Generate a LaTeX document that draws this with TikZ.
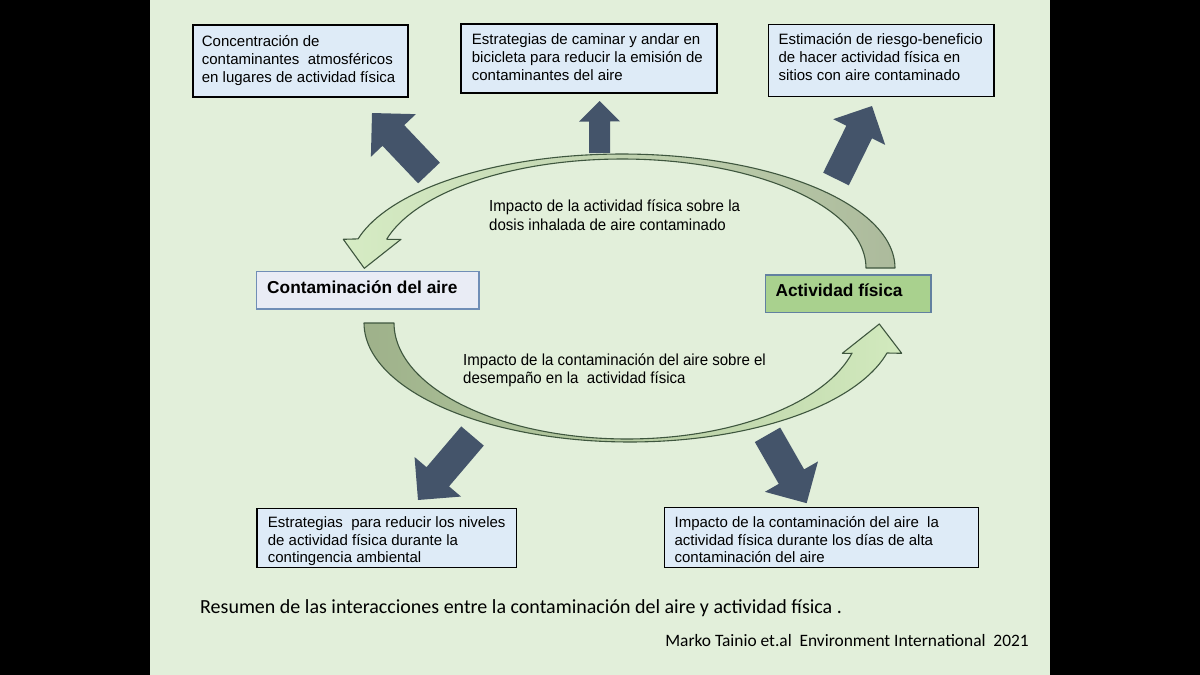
\documentclass[tikz,border=0pt]{standalone}
\usepackage{fontspec}
\setmainfont{Liberation Sans}
\newfontfamily\narrowfont[FakeStretch=0.94]{Liberation Sans}
\newfontfamily\califont{Carlito}
\definecolor{bggreen}{RGB}{226,239,218}
\definecolor{boxblue}{RGB}{222,235,247}
\definecolor{arrowslate}{RGB}{68,84,106}
\definecolor{contfill}{RGB}{233,236,245}
\definecolor{contedge}{RGB}{112,142,182}
\definecolor{actfill}{RGB}{169,209,142}
\definecolor{actedge}{RGB}{98,128,160}
\definecolor{curveedge}{RGB}{62,86,62}
\definecolor{upL}{RGB}{214,236,196}
\definecolor{upR}{RGB}{172,186,156}
\definecolor{loL}{RGB}{158,177,138}
\definecolor{loR}{RGB}{210,234,190}

% block arrow: tail x, tail y, tip x, tip y, shaft half width, head half width (= head length)
\newcommand\blockarr[6]{%
  \pgfmathsetmacro\BAang{atan2(-(#4-#2),#3-#1)}%
  \pgfmathsetmacro\BAlen{veclen(#3-#1,#4-#2)}%
  \pgfmathsetmacro\BAbase{\BAlen-#6}%
  \fill[arrowslate,shift={(#1,#2)},rotate=\BAang]
    (0,-#5) -- (\BAbase,-#5) -- (\BAbase,-#6) -- (\BAlen,0)
    -- (\BAbase,#6) -- (\BAbase,#5) -- (0,#5) -- cycle;}

\begin{document}
\begin{tikzpicture}[x=1pt,y=-1pt,
  infobox/.style={draw=black, line width=1.3pt, fill=boxblue, inner sep=0pt},
  boxtext/.style={inner sep=0pt, align=left, anchor=base west, text=black,
                  font=\fontsize{15}{18.2}\selectfont},
  lowtext/.style={inner sep=0pt, align=left, anchor=base west, text=black,
                  font=\fontsize{15}{17.7}\selectfont},
  midtext/.style={inner sep=0pt, align=left, anchor=base west, text=black,
                  font=\narrowfont\fontsize{16}{18.3}\selectfont},
  keytext/.style={inner sep=0pt, anchor=base west, text=black,
                  font=\bfseries\fontsize{17.3}{20}\selectfont},
  curvearrow/.style={draw=curveedge, line width=1.1pt, line join=round}
]
\useasboundingbox (0,0) rectangle (1200,675);
\fill[black] (0,0) rectangle (1200,675);
\fill[bggreen] (150,0) rectangle (1050,675);

% ---- curved arrows ----
\draw[curvearrow, left color=upL, right color=upR]
  (866,268) -- (895,268)
  -- plot[domain=0:165.2, samples=90] ({622+273*cos(\x)},{268-114*sin(\x)})
  -- (343.3,239.3) -- (364.3,268.3) -- (401,239.3) -- (387,239.3)
  -- plot[domain=164.6:0, samples=90] ({622+244*cos(\x)},{268-109*sin(\x)})
  -- cycle;

\draw[curvearrow, left color=loL, right color=loR]
  (394,323) -- (364,323)
  -- plot[domain=180:14.6, samples=90] ({629.8+265.8*cos(\x)},{323+119*sin(\x)})
  -- (901.7,353.3) -- (879.3,324) -- (842.3,353.3) -- (852,353.3)
  -- plot[domain=15:180, samples=90] ({627+233*cos(\x)},{323+116*sin(\x)})
  -- cycle;

% ---- dark block arrows ----
\blockarr{429}{173}{372}{113}{15}{31}
\blockarr{599.6}{153}{599.5}{101}{10.5}{20.5}
\blockarr{836}{179}{872}{106}{14.3}{29}
\blockarr{472.5}{436}{418}{500}{14.8}{30.5}
\blockarr{767.5}{434.8}{806.7}{503.3}{14.6}{30.6}

% ---- top boxes (text anchored at the baseline of its last line) ----
\node[infobox, minimum width=215pt, minimum height=72pt] (b1) at (300.5,61) {};
\node[boxtext] (b1t) at (201.7,82.4) {Concentración de\\contaminantes\ \ atmosféricos\\en lugares de actividad física};

\node[infobox, minimum width=256pt, minimum height=69pt] (b2) at (589,58.5) {};
\node[boxtext] (b2t) at (471.7,80.7) {Estrategias de caminar y andar en\\bicicleta para reducir la emisión de\\contaminantes del aire};

\node[infobox, minimum width=225.7pt, minimum height=72.4pt] (b3) at (881.2,60.5) {};
\node[boxtext] (b3t) at (778.3,80.7) {Estimación de riesgo-beneficio\\de hacer actividad física en\\sitios con aire contaminado};

% ---- key boxes ----
\node[draw=contedge, line width=1.4pt, fill=contfill, minimum width=222.3pt, minimum height=37.3pt, inner sep=0pt] (cont) at (367.9,290.4) {};
\node[keytext] (contt) at (267,293.3) {Contaminación del aire};

\node[draw=actedge, line width=1.4pt, fill=actfill, minimum width=165.2pt, minimum height=37.3pt, inner sep=0pt] (act) at (848.2,293.7) {};
\node[keytext] (actt) at (775.4,296.7) {Actividad física};

% ---- middle texts ----
\node[midtext] (m1) at (489,230) {Impacto de la actividad física sobre la\\dosis inhalada de aire contaminado};
\node[midtext] (m2) at (463,383.3) {Impacto de la contaminación del aire sobre el\\desempaño en la\ \ actividad física};

% ---- bottom boxes ----
\node[infobox, minimum width=259.5pt, minimum height=59.4pt] (b4) at (386.8,538) {};
\node[lowtext] (b4t) at (267.7,562.7) {Estrategias\ \ para reducir los niveles\\de actividad física durante la\\contingencia ambiental};

\node[infobox, minimum width=313.8pt, minimum height=59.6pt] (b5) at (821.3,537.5) {};
\node[lowtext] (b5t) at (674.4,562.7) {Impacto de la contaminación del aire\ \ la\\actividad física durante los días de alta\\contaminación del aire};

% ---- caption ----
\node[inner sep=0pt, anchor=base west, font=\califont\fontsize{20}{24}\selectfont] (cap) at (200,613) {Resumen de las interacciones entre la contaminación del aire y actividad física .};
\node[inner sep=0pt, anchor=base east, font=\califont\fontsize{17.4}{21}\selectfont] (cred) at (1029,646.7) {Marko Tainio et.al\ \ Environment International\ \ 2021};
\end{tikzpicture}
\end{document}
